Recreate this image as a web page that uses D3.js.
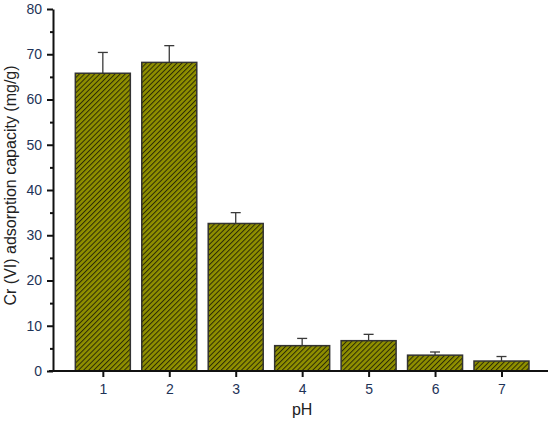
<!DOCTYPE html>
<html>
<head>
<meta charset="utf-8">
<script src="https://cdn.jsdelivr.net/npm/d3@7"></script>
<style>
  body { margin: 0; background: #fff; }
  svg { display: block; font-family: Arial, "Liberation Sans", sans-serif; }
</style>
</head>
<body>
<script>
// pH values and Cr(VI) adsorption capacity (mg/g)
const phValues = [1, 2, 3, 4, 5, 6, 7];
const capacity = [65.8, 68.2, 32.6, 5.6, 6.7, 3.5, 2.2];
const errorUp = [4.6, 3.7, 2.4, 1.6, 1.4, 0.7, 1.0];
const yTicks = [0, 10, 20, 30, 40, 50, 60, 70, 80];
const yMinorTicks = [5, 15, 25, 35, 45, 55, 65, 75];

const W = 550, H = 430;
const margin = { top: 9, right: 2, bottom: 59, left: 53 };

const svg = d3.select('body').append('svg')
  .attr('width', W)
  .attr('height', H);

const defs = svg.append('defs');
const pat = defs.append('pattern')
  .attr('id', 'hatch')
  .attr('patternUnits', 'userSpaceOnUse')
  .attr('width', 3.6)
  .attr('height', 3.6)
  .attr('patternTransform', 'rotate(45)');
pat.append('rect')
  .attr('width', 3.6).attr('height', 3.6)
  .attr('fill', '#8f8f00');
pat.append('line')
  .attr('x1', 0).attr('y1', 0)
  .attr('x2', 0).attr('y2', 3.6)
  .attr('stroke', '#2b2b05')
  .attr('stroke-width', 2);

const x = d3.scaleLinear()
  .domain([0.25, 7.7])
  .range([margin.left, W - margin.right]);

const y = d3.scaleLinear()
  .domain([0, 80])
  .range([H - margin.bottom, margin.top]);

const barW = 55;
const g = svg.append('g');

// error bars (upper only)
const eb = g.selectAll('.err')
  .data(phValues)
  .enter().append('g')
  .attr('class', 'err')
  .attr('stroke', '#3a3a3a')
  .attr('stroke-width', 1.3);
eb.append('line')
  .attr('x1', d => x(d)).attr('x2', d => x(d))
  .attr('y1', (d, i) => y(capacity[i]))
  .attr('y2', (d, i) => y(capacity[i] + errorUp[i]));
eb.append('line')
  .attr('x1', d => x(d) - 5).attr('x2', d => x(d) + 5)
  .attr('y1', (d, i) => y(capacity[i] + errorUp[i]))
  .attr('y2', (d, i) => y(capacity[i] + errorUp[i]));

g.selectAll('.bar')
  .data(phValues)
  .enter().append('rect')
  .attr('class', 'bar')
  .attr('x', d => x(d) - barW / 2)
  .attr('width', barW)
  .attr('y', (d, i) => y(capacity[i]))
  .attr('height', (d, i) => y(0) - y(capacity[i]))
  .attr('fill', 'url(#hatch)')
  .attr('stroke', '#333')
  .attr('stroke-width', 1.5);

// axes
const xAxis = svg.append('g')
  .attr('transform', `translate(0, ${y(0)})`)
  .call(d3.axisBottom(x).tickValues(phValues).tickSize(6).tickPadding(7).tickSizeOuter(0));

const yAxis = svg.append('g')
  .attr('transform', `translate(${margin.left}, 0)`)
  .call(d3.axisLeft(y).tickValues(yTicks).tickSize(6).tickPadding(5).tickSizeOuter(0));

svg.append('g')
  .attr('transform', `translate(${margin.left}, 0)`)
  .call(d3.axisLeft(y).tickValues(yMinorTicks).tickSize(3).tickFormat('').tickSizeOuter(0))
  .call(s => s.select('.domain').remove());

svg.selectAll('.domain').attr('stroke', '#111').attr('stroke-width', 2);
svg.selectAll('.tick line').attr('stroke', '#111').attr('stroke-width', 2);
xAxis.selectAll('.domain').attr('d', `M${margin.left - 4},0H${W - 2}`);
svg.selectAll('.tick text')
  .attr('fill', '#1e3358')
  .attr('font-size', 14);

// axis titles
svg.append('text')
  .attr('x', x(4))
  .attr('y', 415)
  .attr('text-anchor', 'middle')
  .attr('font-size', 16)
  .attr('fill', '#222')
  .text('pH');

svg.append('text')
  .attr('transform', `translate(16, ${y(41)}) rotate(-90)`)
  .attr('text-anchor', 'middle')
  .attr('font-size', 16)
  .attr('fill', '#222')
  .text('Cr (VI) adsorption capacity (mg/g)');
</script>
</body>
</html>
